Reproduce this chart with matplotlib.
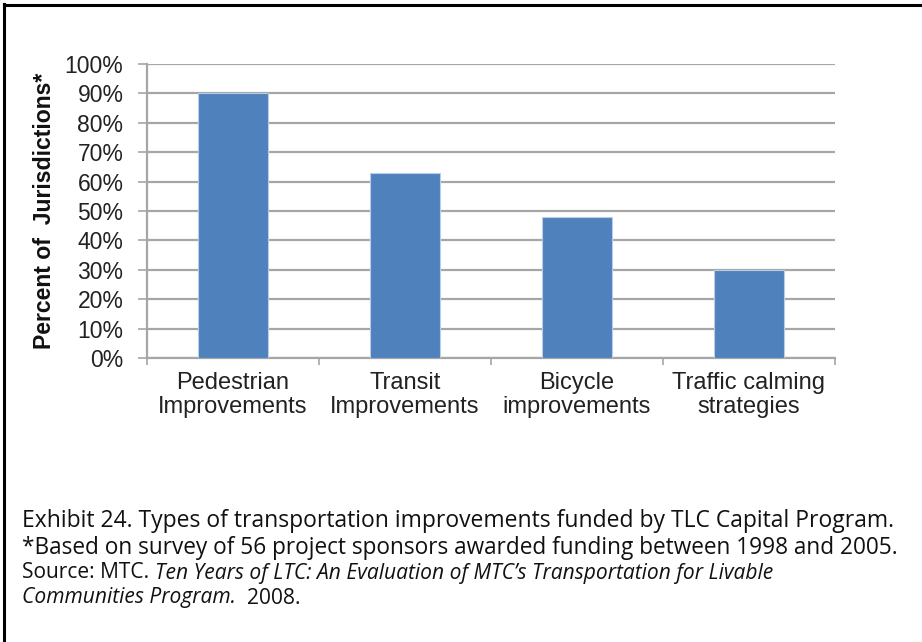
import matplotlib.pyplot as plt
from matplotlib.ticker import PercentFormatter
from matplotlib.lines import Line2D

# data
categories = ["Pedestrian\nImprovements", "Transit\nImprovements",
              "Bicycle\nimprovements", "Traffic calming\nstrategies"]
values = [90, 63, 48, 30]
yticks = list(range(0, 101, 10))

bar_color = "#4F81BD"
grid_color = "#A6A6A6"

fig = plt.figure(figsize=(9.22, 6.42), dpi=100)
ax = fig.add_axes([147 / 922, 1 - 358 / 642, (835 - 147) / 922, (358 - 64) / 642])

x = range(len(categories))
ax.bar(x, values, width=0.41, color=bar_color, edgecolor="#B9CDE5", linewidth=0.8, zorder=3)

ax.set_xlim(-0.5, len(categories) - 0.5)
ax.set_ylim(0, 100)
ax.set_yticks(yticks)
ax.yaxis.set_major_formatter(PercentFormatter(decimals=0))
ax.grid(axis="y", color=grid_color, linewidth=1.6, zorder=0)

# category labels between boundary ticks
ax.set_xticks([i - 0.5 for i in range(len(categories) + 1)])
ax.set_xticklabels([])
ax.set_xticks(list(x), minor=True)
ax.set_xticklabels(categories, minor=True, fontsize=17, family="Liberation Sans",
                   color="#222222", linespacing=1.1)
ax.tick_params(axis="x", which="minor", length=0, pad=10)
ax.tick_params(axis="x", which="major", length=5, color=grid_color, width=1.2)
ax.tick_params(axis="y", length=6.5, color=grid_color, width=1.2, pad=10.5,
               labelsize=16.5, labelcolor="#222222")
for lab in ax.get_yticklabels():
    lab.set_family("Liberation Sans")

for s in ["top", "right"]:
    ax.spines[s].set_visible(False)
for s in ["left", "bottom"]:
    ax.spines[s].set_color(grid_color)
    ax.spines[s].set_linewidth(1.6)

ax.set_ylabel("Percent of  Jurisdictions*", fontsize=16.6, fontweight="bold",
              family="Liberation Sans", color="#111111", labelpad=6)

# frame (top and left only)
fig.add_artist(Line2D([4 / 922, 4 / 922], [0, 1 - 4 / 642], color="black", linewidth=2.2,
                      transform=fig.transFigure))
fig.add_artist(Line2D([4 / 922, 1], [1 - 5 / 642, 1 - 5 / 642], color="black", linewidth=2.2,
                      transform=fig.transFigure))

# caption
fx = 22 / 922
cap_font = "Open Sans"
renderer = fig.canvas.get_renderer()


def run_line(y, pieces, size):
    xpos = fx
    for txt, style in pieces:
        t = fig.text(xpos, y, txt, fontsize=size, family=cap_font, style=style,
                     va="center", color="#111111")
        bb = t.get_window_extent(renderer=renderer)
        xpos = bb.x1 / fig.bbox.width
    return xpos * fig.bbox.width


def fit_line(y, pieces, right_px, size):
    # draw once, then rescale the font so the line ends where the reference does
    n = len(fig.texts)
    end = run_line(y, pieces, size)
    for t in fig.texts[n:]:
        t.remove()
    new_size = size * (right_px - 22) / (end - 22)
    run_line(y, pieces, new_size)
    return new_size


fit_line(1 - 521 / 642, [("Exhibit 24. Types of transportation improvements funded by TLC Capital Program.", "normal")], 895, 14)
fit_line(1 - 548 / 642, [("*Based on survey of 56 project sponsors awarded funding between 1998 and 2005.", "normal")], 903, 14)
s3 = fit_line(1 - 573 / 642, [("Source: MTC. ", "normal"),
                              ("Ten Years of LTC: An Evaluation of MTC\u2019s Transportation for Livable", "italic")], 773, 12)
run_line(1 - 598 / 642, [("Communities Program.", "italic"), ("  2008.", "normal")], s3)

fig.savefig("out.png", dpi=100)
